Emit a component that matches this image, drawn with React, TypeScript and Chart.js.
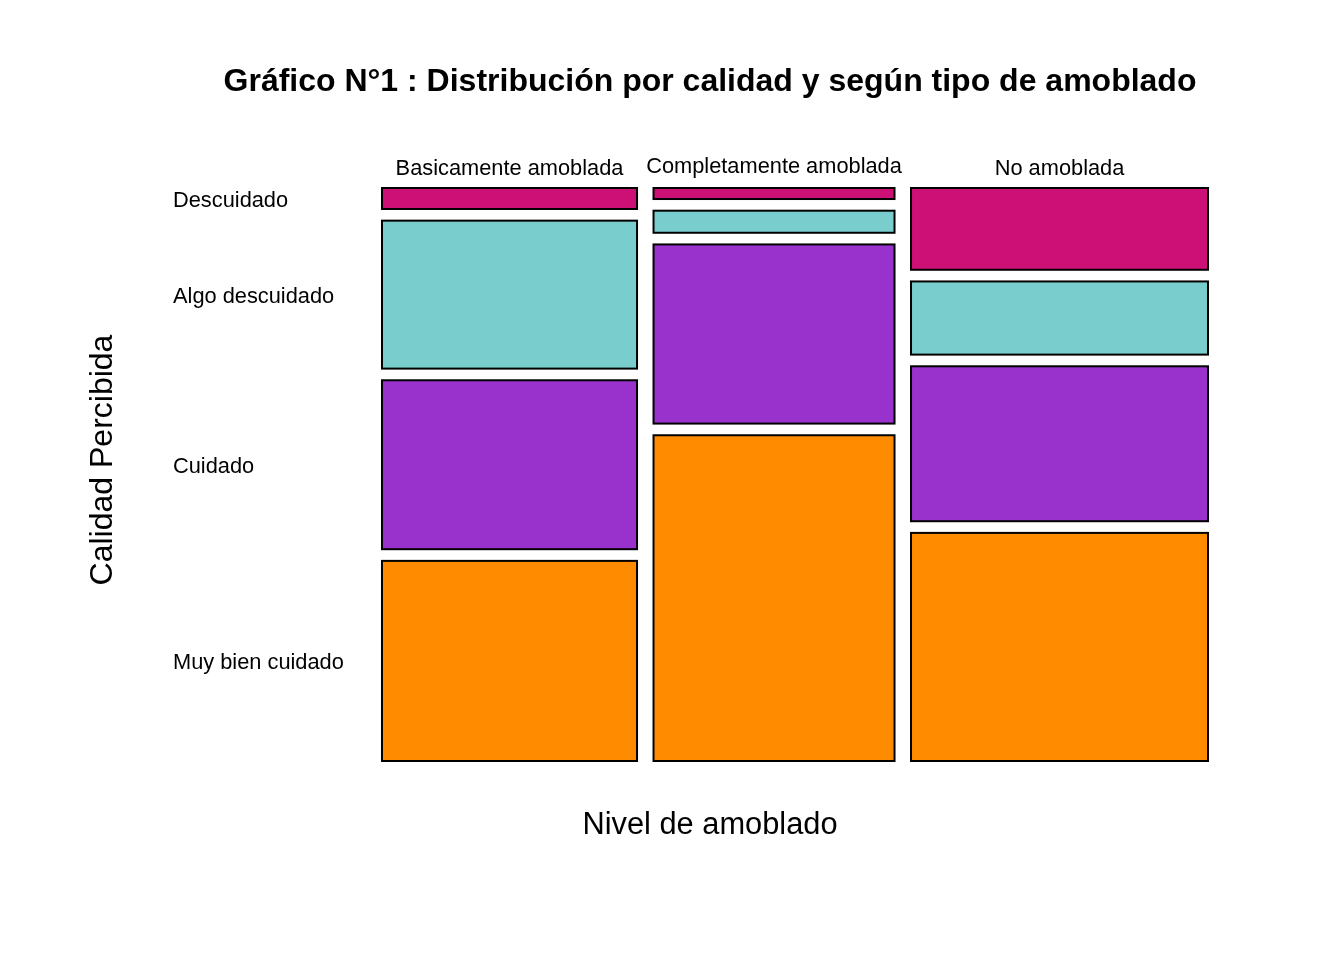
import React, { useEffect, useRef } from "react";
import { Chart, registerables } from "chart.js";

Chart.register(...registerables);

const chartTitle = "Gráfico N°1 : Distribución por calidad y según tipo de amoblado";
const xAxisTitle = "Nivel de amoblado";
const yAxisTitle = "Calidad Percibida";

const columns = ["Basicamente amoblada", "Completamente amoblada", "No amoblada"];
const rowLabels = ["Descuidado", "Algo descuidado", "Cuidado", "Muy bien cuidado"];
const rowColors = ["#CD1076", "#79CDCD", "#9932CC", "#FF8C00"];

// share of each furnishing level (column widths)
const columnShare = [32.16, 30.39, 37.45];
// share of each quality level inside each column (percent)
const descuidado = [3.9, 2.05, 15.2];
const algoDescuidado = [27.5, 4.1, 13.6];
const cuidado = [31.4, 33.3, 28.8];
const muyBienCuidado = [37.2, 60.55, 42.4];

const rowShares = [descuidado, algoDescuidado, cuidado, muyBienCuidado];

const GAP_X = 2.08; // gap between columns, in percent of width
const GAP_Y = 2.17; // gap between rows, in percent of height

const FONT = '"Liberation Sans", Arial, sans-serif';

export default function App() {
  const ref = useRef<HTMLCanvasElement>(null);

  useEffect(() => {
    if (!ref.current) return;
    const totalShare = columnShare.reduce((a, b) => a + b, 0);
    const xMax = totalShare + GAP_X * (columnShare.length - 1);
    const yMax = 100 + GAP_Y * (rowLabels.length - 1);

    const mosaicPlugin = {
      id: "mosaic",
      afterDatasetsDraw(chart: any) {
        const ctx = chart.ctx;
        const xs = chart.scales.x;
        const ys = chart.scales.y;
        const colCenters: number[] = [];
        const firstColRowCenters: number[] = [];
        let xStart = 0;
        columns.forEach((_, c) => {
          const x0 = xs.getPixelForValue(xStart);
          const x1 = xs.getPixelForValue(xStart + columnShare[c]);
          colCenters.push((x0 + x1) / 2);
          let yStart = 0;
          rowLabels.forEach((__, r) => {
            const share = rowShares[r][c];
            const y0 = ys.getPixelForValue(yStart);
            const y1 = ys.getPixelForValue(yStart + share);
            ctx.save();
            ctx.fillStyle = rowColors[r];
            ctx.strokeStyle = "#000000";
            ctx.lineWidth = 2;
            ctx.fillRect(x0, y0, x1 - x0, y1 - y0);
            ctx.strokeRect(x0, y0, x1 - x0, y1 - y0);
            ctx.restore();
            if (c === 0) firstColRowCenters.push((y0 + y1) / 2);
            yStart += share + GAP_Y;
          });
          xStart += columnShare[c] + GAP_X;
        });

        ctx.save();
        ctx.fillStyle = "#000000";
        // title
        ctx.font = `bold 32px ${FONT}`;
        ctx.textAlign = "center";
        ctx.textBaseline = "alphabetic";
        ctx.fillText(chartTitle, 710, 91);
        // x axis title
        ctx.font = `30.8px ${FONT}`;
        ctx.fillText(xAxisTitle, 710, 834);
        // y axis title
        ctx.font = `32px ${FONT}`;
        ctx.save();
        ctx.translate(112, 460);
        ctx.rotate(-Math.PI / 2);
        ctx.fillText(yAxisTitle, 0, 0);
        ctx.restore();
        // column labels
        ctx.font = `21.8px ${FONT}`;
        ctx.textBaseline = "middle";
        columns.forEach((lab, c) => {
          ctx.fillText(lab, colCenters[c], c === 1 ? 167 : 169);
        });
        // row labels
        ctx.textAlign = "left";
        rowLabels.forEach((lab, r) => {
          ctx.fillText(lab, 173, firstColRowCenters[r] + 2.5);
        });
        ctx.restore();
      },
    };

    const chart = new Chart(ref.current, {
      type: "scatter",
      data: { datasets: [{ data: [], pointRadius: 0 }] },
      options: {
        animation: false,
        responsive: false,
        devicePixelRatio: 1,
        layout: { padding: { left: 382, right: 136, top: 188, bottom: 199 } },
        plugins: { legend: { display: false }, tooltip: { enabled: false }, title: { display: false } },
        scales: {
          x: { type: "linear", min: 0, max: xMax, display: false },
          y: { type: "linear", min: 0, max: yMax, reverse: true, display: false },
        },
      },
      plugins: [mosaicPlugin],
    });
    return () => chart.destroy();
  }, []);

  return (
    <div style={{ position: "fixed", left: 0, top: 0, width: 1344, height: 960, background: "#ffffff" }}>
      <canvas ref={ref} width={1344} height={960} />
    </div>
  );
}
